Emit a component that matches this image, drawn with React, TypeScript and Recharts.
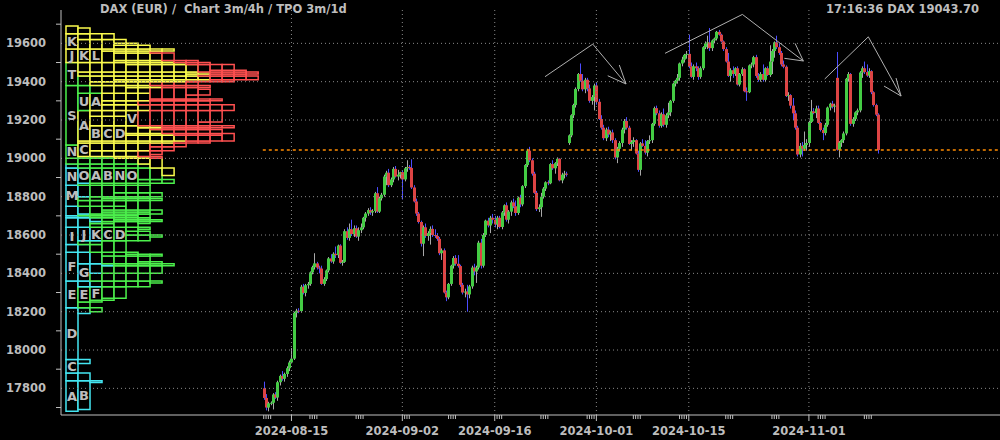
import React from 'react';
import { ComposedChart, Bar, XAxis, YAxis, ReferenceLine, ReferenceArea } from 'recharts';

// trading days shown on the chart (Xetra sessions)
const tradingDays = [
  '2024-08-12', '2024-08-13', '2024-08-14', '2024-08-15', '2024-08-16',
  '2024-08-19', '2024-08-20', '2024-08-21', '2024-08-22', '2024-08-23',
  '2024-08-26', '2024-08-27', '2024-08-28', '2024-08-29', '2024-08-30',
  '2024-09-02', '2024-09-03', '2024-09-04', '2024-09-05', '2024-09-06',
  '2024-09-09', '2024-09-10', '2024-09-11', '2024-09-12', '2024-09-13',
  '2024-09-16', '2024-09-17', '2024-09-18', '2024-09-19', '2024-09-20',
  '2024-09-23', '2024-09-24', '2024-09-25', '2024-09-26', '2024-09-27',
  '2024-09-30', '2024-10-01', '2024-10-02', '2024-10-03', '2024-10-04',
  '2024-10-07', '2024-10-08', '2024-10-09', '2024-10-10', '2024-10-11',
  '2024-10-14', '2024-10-15', '2024-10-16', '2024-10-17', '2024-10-18',
  '2024-10-21', '2024-10-22', '2024-10-23', '2024-10-24', '2024-10-25',
  '2024-10-28', '2024-10-29', '2024-10-30', '2024-10-31', '2024-11-01',
  '2024-11-04', '2024-11-05', '2024-11-06', '2024-11-07', '2024-11-08',
  '2024-11-11', '2024-11-12',
];

// 4h candles per day: [open, high, low, close]
const ohlc = [
  [[17800, 17835, 17740, 17750], [17750, 17770, 17685, 17700], [17700, 17730, 17680, 17722], [17722, 17732, 17712, 17725]],
  [[17725, 17775, 17690, 17768], [17768, 17780, 17745, 17752], [17752, 17840, 17735, 17832], [17832, 17872, 17815, 17865]],
  [[17865, 17890, 17840, 17850], [17850, 17882, 17835, 17875], [17875, 17915, 17860, 17905], [17905, 17945, 17890, 17935]],
  [[17935, 18010, 17930, 17955], [17955, 18200, 17948, 18194], [18194, 18215, 18170, 18205], [18205, 18218, 18192, 18203]],
  [[18203, 18340, 18195, 18330], [18330, 18345, 18290, 18298], [18298, 18345, 18280, 18338], [18338, 18355, 18320, 18345]],
  [[18345, 18410, 18335, 18405], [18405, 18440, 18395, 18432], [18432, 18505, 18420, 18452], [18452, 18460, 18420, 18430]],
  [[18430, 18440, 18400, 18425], [18425, 18440, 18340, 18345], [18345, 18380, 18335, 18370], [18370, 18420, 18360, 18415]],
  [[18415, 18485, 18405, 18478], [18478, 18500, 18455, 18462], [18462, 18510, 18450, 18502], [18502, 18540, 18480, 18495]],
  [[18495, 18550, 18480, 18545], [18545, 18552, 18450, 18455], [18455, 18470, 18440, 18460], [18460, 18630, 18455, 18620]],
  [[18620, 18640, 18575, 18585], [18585, 18660, 18570, 18630], [18630, 18680, 18595, 18605], [18605, 18650, 18590, 18635]],
  [[18635, 18650, 18585, 18592], [18592, 18640, 18570, 18625], [18625, 18660, 18610, 18640], [18640, 18695, 18630, 18690]],
  [[18690, 18720, 18670, 18712], [18712, 18740, 18700, 18730], [18730, 18745, 18705, 18718], [18718, 18735, 18700, 18725]],
  [[18725, 18825, 18715, 18818], [18818, 18850, 18715, 18722], [18722, 18800, 18715, 18792], [18792, 18820, 18780, 18810]],
  [[18810, 18915, 18800, 18905], [18905, 18935, 18860, 18925], [18925, 18945, 18850, 18860], [18860, 18900, 18850, 18890]],
  [[18890, 18955, 18875, 18945], [18945, 18960, 18900, 18905], [18905, 18940, 18885, 18915], [18915, 18930, 18895, 18928]],
  [[18928, 18935, 18785, 18890], [18890, 18955, 18880, 18948], [18948, 18990, 18930, 18955], [18955, 18965, 18940, 18950]],
  [[18950, 18995, 18840, 18848], [18848, 18860, 18770, 18775], [18775, 18790, 18700, 18712], [18712, 18720, 18660, 18668]],
  [[18668, 18675, 18540, 18555], [18555, 18650, 18490, 18640], [18640, 18660, 18585, 18595], [18595, 18620, 18570, 18610]],
  [[18610, 18645, 18550, 18632], [18632, 18650, 18590, 18600], [18600, 18630, 18585, 18595], [18595, 18610, 18570, 18580]],
  [[18580, 18590, 18495, 18505], [18505, 18530, 18470, 18520], [18520, 18530, 18295, 18300], [18300, 18310, 18255, 18275]],
  [[18275, 18350, 18265, 18345], [18345, 18445, 18335, 18440], [18440, 18490, 18425, 18480], [18480, 18495, 18440, 18450]],
  [[18450, 18495, 18430, 18438], [18438, 18445, 18330, 18340], [18340, 18350, 18290, 18300], [18300, 18320, 18275, 18305]],
  [[18305, 18340, 18200, 18290], [18290, 18340, 18270, 18332], [18332, 18440, 18320, 18430], [18430, 18450, 18390, 18410]],
  [[18410, 18440, 18350, 18430], [18430, 18570, 18420, 18560], [18560, 18580, 18425, 18440], [18440, 18610, 18430, 18600]],
  [[18600, 18680, 18590, 18675], [18675, 18690, 18640, 18650], [18650, 18700, 18610, 18690], [18690, 18710, 18660, 18680]],
  [[18680, 18700, 18640, 18655], [18655, 18700, 18630, 18690], [18690, 18700, 18635, 18642], [18642, 18725, 18630, 18718]],
  [[18718, 18760, 18700, 18755], [18755, 18770, 18670, 18680], [18680, 18730, 18660, 18722], [18722, 18780, 18700, 18770]],
  [[18770, 18790, 18740, 18750], [18750, 18780, 18700, 18715], [18715, 18800, 18705, 18795], [18795, 18810, 18745, 18760]],
  [[18760, 18860, 18750, 18855], [18855, 18970, 18845, 18965], [18965, 19050, 18955, 19040], [19040, 19060, 18980, 18990]],
  [[18990, 19000, 18910, 18920], [18920, 18930, 18815, 18820], [18820, 18830, 18725, 18735], [18735, 18760, 18720, 18745]],
  [[18745, 18820, 18695, 18800], [18800, 18850, 18790, 18842], [18842, 18880, 18830, 18875], [18875, 18885, 18860, 18870]],
  [[18870, 18975, 18865, 18970], [18970, 18990, 18940, 18948], [18948, 18980, 18920, 18975], [18975, 19005, 18960, 18998]],
  [[18998, 19000, 18880, 18885], [18885, 18925, 18870, 18915], [18915, 18935, 18895, 18920], [18920, 18930, 18905, 18918]],
  [[19080, 19125, 19070, 19120], [19120, 19230, 19110, 19225], [19225, 19285, 19210, 19278], [19278, 19370, 19265, 19362]],
  [[19362, 19445, 19350, 19440], [19440, 19495, 19400, 19405], [19405, 19440, 19350, 19360], [19360, 19420, 19340, 19410]],
  [[19410, 19420, 19350, 19365], [19365, 19385, 19290, 19300], [19300, 19330, 19280, 19320], [19320, 19390, 19250, 19380]],
  [[19380, 19395, 19280, 19295], [19295, 19310, 19200, 19205], [19205, 19225, 19150, 19160], [19160, 19175, 19095, 19105]],
  [[19105, 19160, 19090, 19150], [19150, 19165, 19110, 19125], [19125, 19145, 19090, 19135], [19135, 19150, 19080, 19095]],
  [[19095, 19105, 18995, 19005], [19005, 19060, 18975, 19050], [19050, 19090, 19035, 19080], [19080, 19160, 19060, 19150]],
  [[19150, 19205, 19130, 19195], [19195, 19215, 19150, 19160], [19160, 19170, 19070, 19075], [19075, 19095, 19040, 19085]],
  [[19085, 19110, 19060, 19095], [19095, 19100, 19020, 19025], [19025, 19040, 18930, 18940], [18940, 19085, 18910, 19078]],
  [[19078, 19100, 19060, 19065], [19065, 19095, 19020, 19030], [19030, 19095, 19010, 19090], [19090, 19120, 19075, 19095]],
  [[19095, 19185, 19080, 19180], [19180, 19270, 19170, 19262], [19262, 19275, 19225, 19235], [19235, 19250, 19160, 19170]],
  [[19170, 19240, 19160, 19230], [19230, 19260, 19165, 19175], [19175, 19235, 19160, 19225], [19225, 19290, 19210, 19240]],
  [[19240, 19305, 19220, 19300], [19300, 19395, 19290, 19390], [19390, 19410, 19375, 19405], [19405, 19440, 19390, 19420]],
  [[19420, 19500, 19405, 19495], [19495, 19530, 19480, 19515], [19515, 19545, 19500, 19540], [19540, 19560, 19520, 19545]],
  [[19545, 19645, 19470, 19480], [19480, 19500, 19420, 19425], [19425, 19490, 19410, 19480], [19480, 19500, 19455, 19470]],
  [[19470, 19480, 19410, 19425], [19425, 19480, 19415, 19470], [19470, 19585, 19460, 19580], [19580, 19610, 19570, 19600]],
  [[19600, 19640, 19570, 19605], [19605, 19680, 19560, 19575], [19575, 19620, 19560, 19615], [19615, 19630, 19600, 19625]],
  [[19625, 19665, 19615, 19660], [19660, 19670, 19640, 19645], [19645, 19650, 19605, 19610], [19610, 19615, 19560, 19570]],
  [[19570, 19580, 19500, 19505], [19505, 19550, 19425, 19430], [19430, 19470, 19400, 19460], [19460, 19480, 19420, 19440]],
  [[19440, 19475, 19430, 19470], [19470, 19480, 19380, 19385], [19385, 19445, 19375, 19440], [19440, 19475, 19430, 19465]],
  [[19465, 19470, 19345, 19350], [19350, 19370, 19300, 19345], [19345, 19490, 19340, 19485], [19485, 19500, 19470, 19490]],
  [[19490, 19535, 19475, 19528], [19528, 19540, 19420, 19430], [19430, 19445, 19400, 19410], [19410, 19450, 19400, 19440]],
  [[19440, 19490, 19400, 19410], [19410, 19475, 19400, 19470], [19470, 19480, 19430, 19435], [19435, 19590, 19425, 19505]],
  [[19505, 19570, 19440, 19560], [19560, 19610, 19525, 19605], [19605, 19640, 19570, 19580], [19580, 19600, 19540, 19550]],
  [[19550, 19560, 19480, 19490], [19490, 19510, 19470, 19478], [19478, 19485, 19320, 19325], [19325, 19345, 19300, 19330]],
  [[19330, 19335, 19260, 19275], [19275, 19315, 19200, 19235], [19235, 19250, 19150, 19160], [19160, 19170, 19010, 19020]],
  [[19020, 19080, 19005, 19065], [19065, 19085, 19010, 19050], [19050, 19140, 19040, 19070], [19070, 19100, 19040, 19080]],
  [[19080, 19195, 19060, 19190], [19190, 19305, 19185, 19245], [19245, 19262, 19230, 19236], [19236, 19275, 19210, 19260]],
  [[19260, 19275, 19180, 19185], [19185, 19190, 19140, 19148], [19148, 19160, 19095, 19132], [19132, 19185, 19120, 19175]],
  [[19175, 19270, 19165, 19265], [19265, 19290, 19250, 19285], [19285, 19300, 19260, 19270], [19270, 19285, 19240, 19275]],
  [[19420, 19555, 19040, 19045], [19045, 19090, 19005, 19082], [19082, 19100, 19060, 19095], [19095, 19140, 19080, 19130]],
  [[19130, 19420, 19120, 19415], [19415, 19450, 19400, 19440], [19440, 19445, 19170, 19180], [19180, 19215, 19165, 19205]],
  [[19205, 19245, 19195, 19240], [19240, 19260, 19225, 19250], [19250, 19455, 19240, 19448], [19448, 19480, 19420, 19470]],
  [[19470, 19505, 19440, 19450], [19450, 19490, 19425, 19432], [19432, 19470, 19420, 19455], [19455, 19460, 19335, 19345]],
  [[19345, 19350, 19270, 19278], [19278, 19285, 19220, 19228], [19228, 19235, 19025, 19043.7]],
];

const lastPrice = 19043.7;
const titleText = 'DAX (EUR) /  Chart 3m/4h / TPO 3m/1d';
const clockText = '17:16:36 DAX 19043.70';

const dateTicks = ['2024-08-15', '2024-09-02', '2024-09-16', '2024-10-01', '2024-10-15', '2024-11-01'];
const priceLabels = [17800, 18000, 18200, 18400, 18600, 18800, 19000, 19200, 19400, 19600];
const priceMinor = [17700, 17900, 18100, 18300, 18500, 18700, 18900, 19100, 19300, 19500, 19700];

// hand-drawn channel lines, [dayIndex, price] end points
const trendLines = [
  [[0, 18729], [79.7, 18542]],
  [[0, 18071], [79.7, 17889]],
];

// hand-drawn swing arrows: polyline and two head strokes, [dayIndex, price]
const arrows = [
  [[30.44, 19426], [35.61, 19596], [39.21, 19388]],
  [[37.23, 19431], [39.21, 19388]],
  [[38.48, 19487], [39.21, 19388]],
  [[43.43, 19548], [51.8, 19751], [58.4, 19508]],
  [[56.34, 19522], [58.4, 19508]],
  [[57.5, 19600], [58.4, 19508]],
  [[60.71, 19414], [65.43, 19634], [68.97, 19325]],
  [[67.13, 19377], [68.97, 19325]],
  [[68.43, 19419], [68.97, 19325]],
];

const monthColors: Record<string, string> = {
  '08': '#44e6f2',
  '09': '#4cf04c',
  '10': '#fafa4c',
  '11': '#ff5050',
};

const BG = '#000000';
const TEXT = '#bdbdbd';
const AXIS = '#c0c0c0';
const GRID = '#8a8a8a';
const UP = '#44cc44';
const DOWN = '#dd4444';
const WICK_UP = '#a8a8a8';
const WICK_DOWN = '#4c4cff';
const FONT = 'DejaVu Sans, Verdana, sans-serif';

// profile geometry in day units of the time axis (one day = 4 candles)
const BRACKET = 10;
const LABEL_MIN = 70; // price span a box needs before it shows its letter
const PROFILE_X0 = -21.4; // left edge of first profile column
const COL_W = 1.3; // one TPO column

const candleData = ohlc.flatMap((bars, d) =>
  bars.map(([o, h, l, c], k) => ({ x: d + k * 0.25, range: [l, h], o, h, l, c })),
);

// market profile: one letter per day, columns in time order per price bracket
const dayStats = tradingDays.map((date, i) => {
  const bars = ohlc[i];
  const month = date.slice(5, 7);
  const idx = tradingDays.slice(0, i).filter((d) => d.slice(5, 7) === month).length;
  return {
    hi: Math.max(...bars.map((b) => b[1])),
    lo: Math.min(...bars.map((b) => b[2])),
    month,
    letter: String.fromCharCode(65 + idx),
  };
});

const rows = new Map<number, number[]>();
dayStats.forEach((s, i) => {
  for (let b = Math.floor(s.lo / BRACKET); b <= Math.floor(s.hi / BRACKET); b++) {
    if (!rows.has(b)) rows.set(b, []);
    rows.get(b)!.push(i);
  }
});
const bKeys = [...rows.keys()];
const bMin = Math.min(...bKeys);
const bMax = Math.max(...bKeys);
const maxCols = Math.max(...[...rows.values()].map((r) => r.length));

type Box = { col: number; day: number; b0: number; b1: number };
const boxes: Box[] = [];
for (let col = 0; col < maxCols; col++) {
  let run: Box | null = null;
  for (let b = bMin; b <= bMax; b++) {
    const day = rows.get(b)?.[col];
    if (run && day === run.day) {
      run.b1 = b;
    } else {
      if (run) boxes.push(run);
      run = day === undefined ? null : { col, day, b0: b, b1: b };
    }
  }
  if (run) boxes.push(run);
}

const majorTickDays = dateTicks.map((d) => tradingDays.indexOf(d));
const mondayTicks = tradingDays
  .map((d, i) => ({ i, dow: new Date(d + 'T00:00:00Z').getUTCDay() }))
  .filter((t) => t.dow === 1)
  .flatMap((t) => [0, 1, 2, 3].map((k) => t.i + k * 0.25))
  .filter((v) => !majorTickDays.includes(v));
const xTicks = [...majorTickDays, ...mondayTicks].sort((a, b) => a - b);

function Candle(props: any) {
  const { x, y, width, height, payload } = props;
  if (!payload || width === undefined) return null;
  const { o, h, l, c } = payload;
  const top = Math.min(y, y + height);
  const span = Math.abs(height);
  const ppu = span / (h - l || 1);
  const cx = Math.round(x + width / 2) + 0.5;
  const up = c >= o;
  const bodyTop = top + (h - Math.max(o, c)) * ppu;
  const bodyH = Math.max(1, Math.abs(o - c) * ppu);
  return (
    <g>
      <line x1={cx} x2={cx} y1={top} y2={top + span} stroke={up ? WICK_UP : WICK_DOWN} strokeWidth={1} />
      <rect x={cx - 1.5} y={bodyTop} width={3} height={bodyH} fill={up ? UP : DOWN} />
    </g>
  );
}

function PriceTick(props: any) {
  const { x, y, payload } = props;
  const v = payload.value;
  if (priceLabels.includes(v)) {
    return (
      <text x={x - 15} y={y} dy={4} textAnchor="end" fill={TEXT} fontSize={11.5} fontWeight="bold" fontFamily={FONT}>
        {v}
      </text>
    );
  }
  return <line x1={x - 5} x2={x} y1={y} y2={y} stroke={AXIS} />;
}

function DateTick(props: any) {
  const { x, y, payload } = props;
  const i = majorTickDays.indexOf(payload.value);
  if (i >= 0) {
    return (
      <g>
        <line x1={x} x2={x} y1={y} y2={y + 6} stroke={AXIS} />
        <text x={x} y={y + 20} textAnchor="middle" fill={TEXT} fontSize={11.5} fontWeight="bold" fontFamily={FONT}>
          {dateTicks[i]}
        </text>
      </g>
    );
  }
  return <line x1={x} x2={x} y1={y} y2={y + 4} stroke={AXIS} />;
}

export default function App() {
  return (
    <div style={{ position: 'absolute', left: 0, top: 0, width: 1000, height: 440, background: BG, overflow: 'hidden' }}>
      <ComposedChart width={1000} height={440} data={candleData} margin={{ top: 10, right: 0, bottom: 0, left: 0 }}>
        <XAxis
          type="number"
          dataKey="x"
          domain={[-21.94, 79.68]}
          allowDataOverflow
          ticks={xTicks}
          interval={0}
          height={25}
          tickSize={0}
          tickMargin={0}
          tickLine={false}
          axisLine={{ stroke: AXIS }}
          tick={<DateTick />}
        />
        <YAxis
          type="number"
          domain={[17661, 19774]}
          allowDataOverflow
          ticks={[...priceLabels, ...priceMinor].sort((a, b) => a - b)}
          interval={0}
          width={61}
          tickSize={0}
          tickMargin={0}
          tickLine={false}
          axisLine={{ stroke: AXIS }}
          tick={<PriceTick />}
        />

        {priceLabels.map((p) => (
          <ReferenceLine key={'h' + p} y={p} stroke={GRID} strokeDasharray="1 3" />
        ))}
        {majorTickDays.map((d) => (
          <ReferenceLine key={'v' + d} x={d} stroke={GRID} strokeDasharray="1 3" />
        ))}

        {boxes.map((bx, i) => {
          const s = dayStats[bx.day];
          const tall = (bx.b1 - bx.b0 + 1) * BRACKET >= LABEL_MIN && s.month !== '11';
          return (
            <ReferenceArea
              key={'tpo' + i}
              x1={PROFILE_X0 + bx.col * COL_W}
              x2={PROFILE_X0 + (bx.col + 1) * COL_W}
              y1={bx.b0 * BRACKET}
              y2={(bx.b1 + 1) * BRACKET}
              stroke={monthColors[s.month]}
              strokeWidth={1.5}
              fill={BG}
              fillOpacity={1}
              ifOverflow="visible"
              label={
                tall
                  ? { value: s.letter, position: 'center', fill: TEXT, fontSize: 13, fontWeight: 'bold', fontFamily: FONT }
                  : undefined
              }
            />
          );
        })}

        {trendLines.map((ln, i) => (
          <ReferenceLine
            key={'t' + i}
            segment={ln.map(([x, y]) => ({ x, y }))}
            stroke="#ffffff"
            strokeWidth={2}
          />
        ))}
        <ReferenceLine
          segment={[{ x: -0.1, y: lastPrice }, { x: 79.68, y: lastPrice }]}
          stroke="#ff8c00"
          strokeWidth={1.5}
          strokeDasharray="3 3"
        />
        {arrows.flatMap((pts, i) =>
          pts.slice(1).map((p, j) => (
            <ReferenceLine
              key={'a' + i + '-' + j}
              segment={[{ x: pts[j][0], y: pts[j][1] }, { x: p[0], y: p[1] }]}
              stroke="#b0b0b0"
              strokeWidth={1}
            />
          )),
        )}

        <Bar dataKey="range" barSize={3} shape={<Candle />} isAnimationActive={false} />
      </ComposedChart>
      <div
        style={{
          position: 'absolute', left: 100, top: 2, color: TEXT, fontFamily: FONT,
          fontWeight: 'bold', fontSize: 11.5, whiteSpace: 'pre', lineHeight: '14px',
        }}
      >
        {titleText}
      </div>
      <div
        style={{
          position: 'absolute', right: 21, top: 2, color: TEXT, fontFamily: FONT,
          fontWeight: 'bold', fontSize: 11.5, whiteSpace: 'pre', lineHeight: '14px',
        }}
      >
        {clockText}
      </div>
    </div>
  );
}
